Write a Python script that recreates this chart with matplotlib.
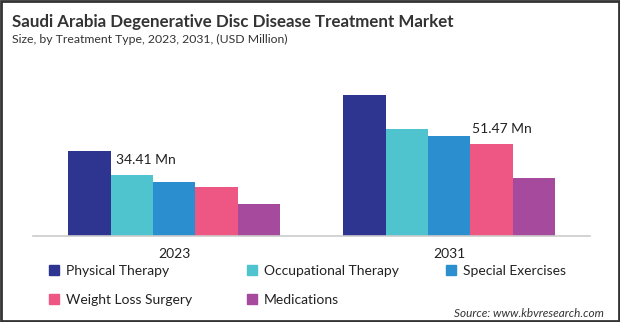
import matplotlib.pyplot as plt
import numpy as np
from matplotlib.patches import Patch, Rectangle

plt.rcParams['font.family'] = ['Lato', 'DejaVu Sans']

years = ['2023', '2031']
segments = ['Physical Therapy', 'Occupational Therapy', 'Special Exercises',
            'Weight Loss Surgery', 'Medications']
values_2023 = [47.8, 34.41, 30.3, 27.5, 17.9]
values_2031 = [79.4, 60.2, 56.2, 51.47, 32.5]
colors = ['#2D3590', '#4FC4CF', '#2B8FCF', '#EE5683', '#A64A9D']

fig = plt.figure(figsize=(6.2, 3.22), dpi=100)
ax = fig.add_axes([33 / 620, 1 - 235.5 / 322, 557 / 620, 175.5 / 322])

x = np.arange(len(years))
w = 0.154
data = np.array([values_2023, values_2031])
for i, seg in enumerate(segments):
    ax.bar(x + (i - 2) * w, data[:, i], w, color=colors[i], label=seg)

# value labels as in the original
ax.annotate('34.41 Mn', (x[0] - 1.5 * w, values_2023[1]), xytext=(4, 6),
            textcoords='offset points', ha='left', va='bottom', fontsize=10, color='#222222')
ax.annotate('51.47 Mn', (x[1] + 0.5 * w, values_2031[3]), xytext=(1.5, 6.5),
            textcoords='offset points', ha='left', va='bottom', fontsize=10, color='#222222')

ax.set_xlim(-0.513, 1.512)
ax.set_ylim(0, 99)
ax.set_yticks([])
ax.set_xticks(x)
ax.set_xticklabels(years, fontsize=10, color='#222222')
ax.tick_params(axis='x', length=0, pad=9)
for s in ['top', 'right', 'left']:
    ax.spines[s].set_visible(False)
ax.spines['bottom'].set_color('#CCCCCC')
ax.spines['bottom'].set_linewidth(1.2)

fig.text(12 / 620, 1 - 27 / 322, 'Saudi Arabia Degenerative Disc Disease Treatment Market',
         fontsize=12.2, fontweight='bold', color='#333333', va='baseline')
fig.text(12 / 620, 1 - 43 / 322, 'Size, by Treatment Type, 2023, 2031, (USD Million)',
         fontsize=8.8, color='#333333', va='baseline')

# legend, row by row in three columns
cols = [[0, 3], [1, 4], [2]]
col_x = [49, 247, 446]
for xc, idx in zip(col_x, cols):
    handles = [Patch(color=colors[k], label=segments[k]) for k in idx]
    fig.legend(handles=handles, loc='upper left', bbox_to_anchor=(xc / 620, 1 - 265 / 322),
               frameon=False, fontsize=10, handlelength=0.7, handleheight=0.7,
               handletextpad=0.5, labelspacing=1.2, borderpad=0, borderaxespad=0,
               labelcolor='#222222')

fig.text(604 / 620, 1 - 317 / 322, 'Source: www.kbvresearch.com', fontsize=8.5,
         style='italic', color='#333333', ha='right', va='baseline')

fig.patches.append(Rectangle((0.0015, 0.003), 0.997, 0.994, transform=fig.transFigure,
                             fill=False, edgecolor='#333333', linewidth=2))

fig.savefig('out.png', dpi=100)
